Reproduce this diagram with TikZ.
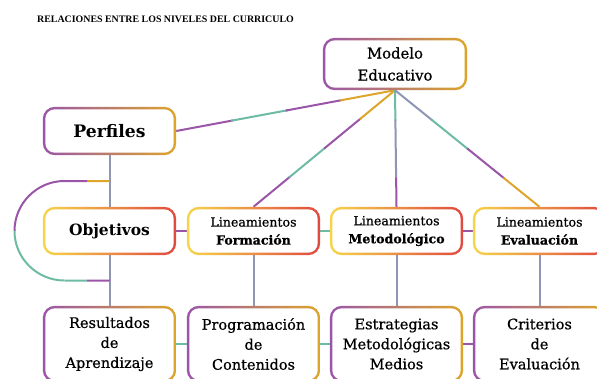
\documentclass[tikz,border=0pt]{standalone}
\usepackage{fontspec}
\setmainfont{DejaVu Serif}
\newfontfamily\medfont[FakeBold=0.7]{DejaVu Serif}
\newfontfamily\titlefont{Liberation Serif}
\usetikzlibrary{calc,backgrounds}
\definecolor{cp}{HTML}{9A55A8}
\definecolor{ct}{HTML}{6DBBA4}
\definecolor{cg}{HTML}{DDA52A}
\definecolor{cb}{HTML}{8E96B4}
\definecolor{cy}{HTML}{F6D54A}
\definecolor{co}{HTML}{F0A550}
\definecolor{cr}{HTML}{E0493F}
\tikzset{
  box/.style={minimum width=133pt, minimum height=48pt, inner sep=0pt, align=center, text=black},
  modbox/.style={box, minimum width=144pt, minimum height=52pt, font=\medfont\fontsize{14.8}{22}\selectfont},
  bigbox/.style={box, font=\bfseries\fontsize{15.5}{19}\selectfont},
  linbox/.style={box, font=\medfont\fontsize{12.6}{18}\selectfont},
  lowbox/.style={box, minimum height=76pt, font=\medfont\fontsize{14.5}{20}\selectfont},
  conn/.style={line width=2pt},
}
\newcommand{\gradbox}[4]{%
  \shade[left color=#2, middle color=#3, right color=#4, rounded corners=12pt] (#1.south west) rectangle (#1.north east);
  \fill[white, rounded corners=9.5pt] ([xshift=2.5pt,yshift=2.5pt]#1.south west) rectangle ([xshift=-2.5pt,yshift=-2.5pt]#1.north east);
}
\newcommand{\gline}[6]{%
  \draw[conn,#3] (#1) -- ($(#1)!0.26!(#2)$);
  \draw[conn,#4] ($(#1)!0.25!(#2)$) -- ($(#1)!0.51!(#2)$);
  \draw[conn,#5] ($(#1)!0.5!(#2)$) -- ($(#1)!0.76!(#2)$);
  \draw[conn,#6] ($(#1)!0.75!(#2)$) -- (#2);
}
\begin{document}
\begin{tikzpicture}[x=1pt,y=-1pt]
\useasboundingbox (0,0) rectangle (597,378);
\node[anchor=west, inner sep=0pt, font=\titlefont\bfseries\fontsize{9.9}{11}\selectfont] (title) at (37,19) {RELACIONES ENTRE LOS NIVELES DEL CURRICULO};

\node[modbox] (mod) at (395,64) {Modelo\\Educativo};
\node[bigbox, font=\bfseries\fontsize{17.2}{19}\selectfont] (perf) at (109.5,131) {Perfiles};
\node[bigbox] (obj) at (109.5,231) {Objetivos};
\node[linbox] (lf) at (253.5,231) {Lineamientos\\\textbf{Formación}};
\node[linbox] (lm) at (396.5,231) {Lineamientos\\\textbf{Metodológico}};
\node[linbox] (le) at (539.5,231) {Lineamientos\\\textbf{Evaluación}};
\node[lowbox] (res) at (109.5,344) {Resultados\\de\\Aprendizaje};
\node[lowbox] (prog) at (253.5,344) {Programación\\de\\Contenidos};
\node[lowbox] (est) at (396.5,344) {Estrategias\\Metodológicas\\Medios};
\node[lowbox] (crit) at (539.5,344) {Criterios\\de\\Evaluación};

\coordinate (l1) at ($(perf.south)!0.5!(obj.north)$);
\coordinate (l2) at ($(obj.south)!0.5!(res.north)$);
\coordinate (m1) at ($(l1)+(-45,0)$);
\coordinate (m2) at ($(l2)+(-45,0)$);

\begin{scope}[on background layer]
  % connectors
  \gline{perf.east}{mod.south}{cp}{ct}{cp}{cg}
  \gline{lf.north}{mod.south}{cp}{ct}{cp}{cg}
  \gline{mod.south}{lm.north}{ct}{cb}{cb}{cp}
  \gline{mod.south}{le.north}{cb}{ct}{cp}{cg}
  \draw[conn,cb] (perf.south) -- (obj.north);
  \draw[conn,cb] (obj.south) -- (res.north);
  \draw[conn,cb] (lf.south) -- (prog.north);
  \draw[conn,cb] (lm.south) -- (est.north);
  \draw[conn,cb] (le.south) -- (crit.north);
  \draw[conn,cp] (obj.east) -- (lf.west);
  \draw[conn,ct] (lf.east) -- (lm.west);
  \draw[conn,cp] (lm.east) -- (le.west);
  \draw[conn,ct] (res.east) -- (prog.west);
  \draw[conn,ct] (prog.east) -- (est.west);
  \draw[conn,cp] (est.east) -- (crit.west);
  % loop
  \draw[conn,cg] (l1) -- ($(l1)!0.5!(m1)$);
  \draw[conn,cp] ($(l1)!0.5!(m1)$) -- (m1) .. controls ($(m1)+(-27.6,0)$) and ($(m1)+(-50,22.4)$) .. ($(m1)+(-50,50)$);
  \draw[conn,ct] ($(m1)+(-50,50)$) .. controls ($(m2)+(-50,-22.4)$) and ($(m2)+(-27.6,0)$) .. (m2);
  \draw[conn,ct] (m2) -- ($(m2)!0.5!(l2)$);
  \draw[conn,cp] ($(m2)!0.5!(l2)$) -- (l2);
  % boxes
  \gradbox{mod}{cp}{ct}{cg}
  \gradbox{perf}{cp}{ct}{cg}
  \gradbox{obj}{cy}{co}{cr}
  \gradbox{lf}{cy}{co}{cr}
  \gradbox{lm}{cy}{co}{cr}
  \gradbox{le}{cy}{co}{cr}
  \gradbox{res}{cp}{ct}{cg}
  \gradbox{prog}{cp}{ct}{cg}
  \gradbox{est}{cp}{ct}{cg}
  \gradbox{crit}{cp}{ct}{cg}
\end{scope}
\end{tikzpicture}
\end{document}
